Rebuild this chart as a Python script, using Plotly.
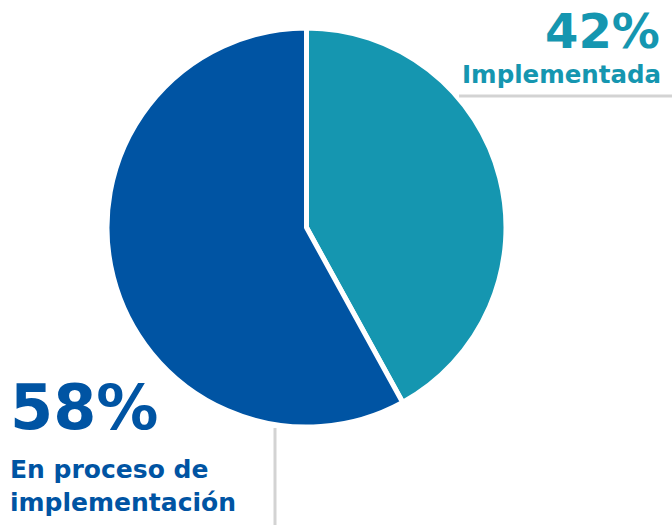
import plotly.graph_objects as go

labels = ["Implementada", "En proceso de implementación"]
values = [42, 58]
colors = ["#1596b0", "#0054a3"]
pct_text = ["42%", "58%"]

W, H = 672, 525
FONT = "DejaVu Sans"

fig = go.Figure()
fig.add_trace(go.Pie(
    labels=labels, values=values, sort=False, direction="clockwise",
    rotation=0, textinfo="none", hoverinfo="label+percent",
    marker=dict(colors=colors, line=dict(color="white", width=5)),
    domain=dict(x=[107 / W, 506 / W], y=[98 / H, 497 / H]),
    showlegend=False,
))

# leader lines
fig.add_shape(type="line", xref="paper", yref="paper",
              x0=459 / W, x1=1, y0=1 - 96 / H, y1=1 - 96 / H,
              line=dict(color="#d3d3d3", width=3))
fig.add_shape(type="line", xref="paper", yref="paper",
              x0=275 / W, x1=275 / W, y0=1 - 428 / H, y1=0,
              line=dict(color="#d3d3d3", width=3))

fig.add_annotation(x=662 / W, y=1 - 31 / H, xref="paper", yref="paper",
                   xanchor="right", yanchor="middle", showarrow=False,
                   text="<b>" + pct_text[0] + "</b>",
                   font=dict(family=FONT, size=48, color=colors[0]))
fig.add_annotation(x=663 / W, y=1 - 74 / H, xref="paper", yref="paper",
                   xanchor="right", yanchor="middle", showarrow=False,
                   text="<b>" + labels[0] + "</b>",
                   font=dict(family=FONT, size=24.5, color=colors[0]))
fig.add_annotation(x=8 / W, y=1 - 407 / H, xref="paper", yref="paper",
                   xanchor="left", yanchor="middle", showarrow=False,
                   text="<b>" + pct_text[1] + "</b>",
                   font=dict(family=FONT, size=62, color=colors[1]))
fig.add_annotation(x=8 / W, y=1 - 486 / H, xref="paper", yref="paper",
                   xanchor="left", yanchor="middle", showarrow=False, align="left",
                   text="<b>En proceso de<br>implementación</b>",
                   font=dict(family=FONT, size=25, color=colors[1]))

fig.update_layout(width=W, height=H, margin=dict(l=0, r=0, t=0, b=0),
                  paper_bgcolor="white", plot_bgcolor="white")

fig.write_html("out.html", config={"displayModeBar": False},
               post_script="document.body.style.margin='0';")
